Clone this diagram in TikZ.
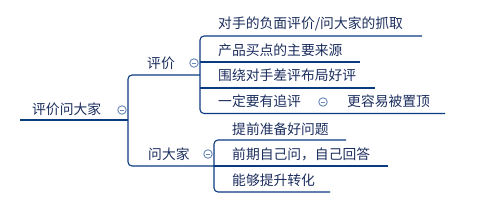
\documentclass[tikz,border=0pt]{standalone}
\usepackage{fontspec}
\setmainfont{Noto Sans CJK SC}
\definecolor{linec}{HTML}{0A3A80}
\definecolor{textc}{HTML}{1C2E5E}
\definecolor{circc}{HTML}{6A88BC}
\tikzset{
  topic/.style={anchor=west,inner sep=0pt,text=textc,font=\fontsize{13.8}{14}\selectfont},
  conn/.style={draw=linec,line width=1.1pt,rounded corners=4pt},
  fold/.style={circle,draw=circc,line width=0.9pt,fill=white,minimum size=8.5pt,inner sep=0pt,
    path picture={\draw[circc,line width=0.9pt] ([xshift=-2.2pt]path picture bounding box.center) -- ([xshift=2.2pt]path picture bounding box.center);}}
}
\begin{document}
\begin{tikzpicture}[x=1pt,y=-1pt]
\useasboundingbox (0,0) rectangle (483,209);
% texts
\node[topic] (root) at (32,109) {评价问大家};
\node[topic] (pj) at (147,63) {评价};
\node[topic] (wdj) at (148,154) {问大家};
\node[topic] (a1) at (218,24) {对手的负面评价/问大家的抓取};
\node[topic] (a2) at (218,50) {产品买点的主要来源};
\node[topic] (a3) at (218,75) {围绕对手差评布局好评};
\node[topic] (a4) at (218,101) {一定要有追评};
\node[topic] (a41) at (347,101) {更容易被置顶};
\node[topic] (b1) at (232,129) {提前准备好问题};
\node[topic] (b2) at (232,154) {前期自己问，自己回答};
\node[topic] (b3) at (232,180) {能够提升转化};
% line coordinates
\coordinate (rootS) at (20,120);
\coordinate (rootJ) at (128,120);
\coordinate (rootT) at (128,75);
\coordinate (rootB) at (128,166);
\coordinate (pjE) at (200,75);
\coordinate (wdjE) at (214,166);
\coordinate (a1E) at (422,36);
\coordinate (a2S) at (200,62);
\coordinate (a2E) at (360,62);
\coordinate (a3S) at (200,88);
\coordinate (a3E) at (375,88);
\coordinate (a4E) at (445,113.5);
\coordinate (b1E) at (346,140);
\coordinate (b2E) at (388,166);
\coordinate (b3E) at (330,192);
% connectors
\draw[conn] (rootS) -- (rootJ);
\draw[conn] (pjE) -- (rootT) -- (rootB) -- (wdjE);
\draw[conn] (a1E) -- (a1E -| pjE) -- (a4E -| pjE) -- (a4E);
\draw[conn] (a2S) -- (a2E);
\draw[conn] (a3S) -- (a3E);
\draw[conn] (b1E) -- (b1E -| wdjE) -- (b3E -| wdjE) -- (b3E);
\draw[conn] (wdjE) -- (b2E);
% fold circles
\node[fold] (f0) at (122,110) {};
\node[fold] (f1) at (194,63) {};
\node[fold] (f2) at (208,154) {};
\node[fold] (f3) at (323,102) {};
\end{tikzpicture}
\end{document}
